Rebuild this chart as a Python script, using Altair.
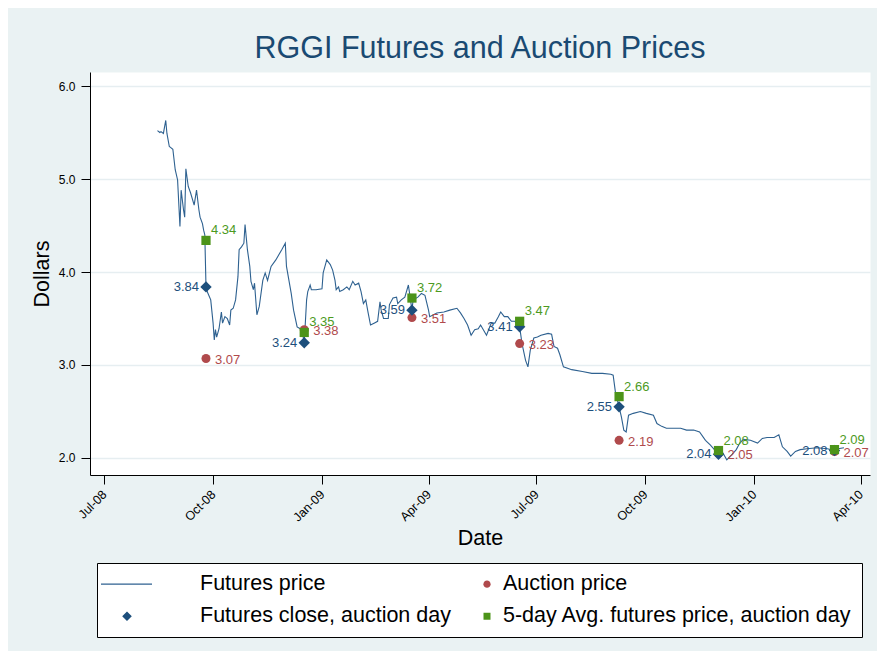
import altair as alt
import pandas as pd

# ---------------- data ----------------
line_dates = [
    "2008-08-15", "2008-08-17", "2008-08-18", "2008-08-20", "2008-08-22", "2008-08-23",
    "2008-08-25", "2008-08-26", "2008-08-28", "2008-08-30", "2008-09-01", "2008-09-03",
    "2008-09-04", "2008-09-06", "2008-09-07", "2008-09-08", "2008-09-10", "2008-09-12",
    "2008-09-15", "2008-09-17", "2008-09-19", "2008-09-20", "2008-09-22", "2008-09-23",
    "2008-09-24", "2008-09-25", "2008-09-26", "2008-09-29", "2008-10-01", "2008-10-02",
    "2008-10-03", "2008-10-04", "2008-10-06", "2008-10-08", "2008-10-09", "2008-10-11",
    "2008-10-13", "2008-10-15", "2008-10-16", "2008-10-18", "2008-10-20", "2008-10-22",
    "2008-10-23", "2008-10-25", "2008-10-27", "2008-10-28", "2008-10-30", "2008-11-01",
    "2008-11-02", "2008-11-04", "2008-11-05", "2008-11-07", "2008-11-09", "2008-11-12",
    "2008-11-14", "2008-11-16", "2008-11-19", "2008-11-23", "2008-11-28", "2008-12-01",
    "2008-12-02", "2008-12-06", "2008-12-08", "2008-12-11", "2008-12-15", "2008-12-17",
    "2008-12-19", "2008-12-20", "2008-12-22", "2008-12-23", "2008-12-27", "2009-01-01",
    "2009-01-02", "2009-01-05", "2009-01-08", "2009-01-10", "2009-01-12", "2009-01-13",
    "2009-01-15", "2009-01-16", "2009-01-19", "2009-01-22", "2009-01-24", "2009-01-27",
    "2009-01-29", "2009-02-01", "2009-02-03", "2009-02-05", "2009-02-07", "2009-02-09",
    "2009-02-11", "2009-02-14", "2009-02-17", "2009-02-19", "2009-02-20", "2009-02-22",
    "2009-02-26", "2009-02-27", "2009-03-02", "2009-03-05", "2009-03-06", "2009-03-09",
    "2009-03-12", "2009-03-15", "2009-03-18", "2009-03-19", "2009-03-23", "2009-03-26",
    "2009-03-29", "2009-04-01", "2009-04-02", "2009-04-08", "2009-04-14", "2009-04-19",
    "2009-04-25", "2009-04-28", "2009-05-01", "2009-05-04", "2009-05-07", "2009-05-10",
    "2009-05-13", "2009-05-15", "2009-05-20", "2009-05-24", "2009-05-27", "2009-05-30",
    "2009-06-01", "2009-06-04", "2009-06-07", "2009-06-10", "2009-06-13", "2009-06-17",
    "2009-06-19", "2009-06-22", "2009-06-24", "2009-06-26", "2009-06-29", "2009-07-02",
    "2009-07-05", "2009-07-11", "2009-07-14", "2009-07-16", "2009-07-19", "2009-07-21",
    "2009-07-24", "2009-07-31", "2009-08-09", "2009-08-17", "2009-08-26", "2009-09-02",
    "2009-09-04", "2009-09-06", "2009-09-09", "2009-09-11", "2009-09-13", "2009-09-15",
    "2009-09-17", "2009-09-21", "2009-09-27", "2009-10-02", "2009-10-08", "2009-10-11",
    "2009-10-15", "2009-10-19", "2009-10-31", "2009-11-05", "2009-11-11", "2009-11-16",
    "2009-11-21", "2009-11-25", "2009-12-02", "2009-12-05", "2009-12-09", "2009-12-13",
    "2009-12-17", "2009-12-20", "2009-12-23", "2009-12-29", "2010-01-04", "2010-01-08",
    "2010-01-12", "2010-01-18", "2010-01-22", "2010-01-25", "2010-01-29", "2010-02-01",
    "2010-02-05", "2010-02-09", "2010-02-15", "2010-02-23", "2010-03-04", "2010-03-10",
    "2010-03-13", "2010-03-18",
]
line_values = [
    5.52, 5.50, 5.51, 5.49, 5.63, 5.49,
    5.35, 5.34, 5.32, 5.10, 4.99, 4.49,
    4.88, 4.67, 4.59, 5.11, 4.92, 4.85,
    4.72, 4.88, 4.67, 4.59, 4.52, 4.45,
    4.40, 3.84, 3.79, 3.70, 3.45, 3.27,
    3.38, 3.30, 3.39, 3.57, 3.45, 3.52,
    3.50, 3.43, 3.59, 3.61, 3.70, 3.95,
    4.24, 4.27, 4.31, 4.51, 4.24, 4.06,
    3.90, 3.81, 3.88, 3.54, 3.63, 3.91,
    3.99, 3.91, 4.06, 4.13, 4.24, 4.31,
    4.06, 3.77, 3.59, 3.41, 3.38, 3.24,
    3.70, 3.79, 3.86, 3.81, 3.81, 3.82,
    3.99, 4.13, 4.08, 4.02, 3.91, 3.81,
    3.84, 3.79, 3.81, 3.84, 3.81, 3.90,
    3.86, 3.88, 3.79, 3.66, 3.70, 3.56,
    3.43, 3.45, 3.47, 3.68, 3.59, 3.50,
    3.50, 3.65, 3.72, 3.73, 3.66, 3.70,
    3.73, 3.86, 3.59, 3.70, 3.73, 3.77,
    3.75, 3.59, 3.52, 3.56, 3.57, 3.59,
    3.61, 3.56, 3.50, 3.43, 3.32, 3.38,
    3.39, 3.43, 3.32, 3.45, 3.45, 3.52,
    3.57, 3.52, 3.52, 3.47, 3.47, 3.41,
    3.23, 3.05, 2.98, 3.16, 3.29, 3.30,
    3.32, 3.34, 3.33, 3.20, 3.18, 3.11,
    2.98, 2.95, 2.93, 2.91, 2.91, 2.90,
    2.89, 2.70, 2.55, 2.44, 2.30, 2.28,
    2.46, 2.48, 2.50, 2.48, 2.46, 2.37,
    2.34, 2.32, 2.32, 2.30, 2.30, 2.28,
    2.19, 2.14, 2.04, 2.07, 1.98, 2.03,
    2.09, 2.16, 2.20, 2.19, 2.16, 2.21,
    2.22, 2.22, 2.25, 2.12, 2.07, 2.02,
    2.07, 2.09, 2.10, 2.11, 2.10, 2.08,
    2.10, 2.11,
]

auction_dates = ["2008-09-25", "2008-12-17", "2009-03-18", "2009-06-17",
                 "2009-09-09", "2009-12-02", "2010-03-10"]
auction_price = [3.07, 3.38, 3.51, 3.23, 2.19, 2.05, 2.07]
close_price = [3.84, 3.24, 3.59, 3.41, 2.55, 2.04, 2.08]
avg5_price = [4.34, 3.35, 3.72, 3.47, 2.66, 2.08, 2.09]

# legend order (column-major: left column first, then right column)
series_names = ["Futures price", "Futures close, auction day",
                "Auction price", "5-day Avg. futures price, auction day"]
series_colors = ["#2E6190", "#1D4F7C", "#B04A4C", "#4C9419"]
label_colors = {"close": "#1D4F7C", "auction": "#B04A4C", "avg": "#4C9A1E"}

tick_dates = [(2008, 7), (2008, 10), (2009, 1), (2009, 4), (2009, 7), (2009, 10), (2010, 1), (2010, 4)]

FONT = "Liberation Sans"
LEGEND_FONT_SIZE = 21.5

# ---------------- legend symbol shapes (custom paths, px relative to symbol centre) ----------------
SYM_SIZE = 100
R = (SYM_SIZE ** 0.5) / 2.0           # px per path unit
COL2_SYM = 25.25                      # right-column symbol centre, px from default centre


def u(v):
    return f"{v / R:.3f}"


def guard(x):
    return f"M{u(x)},{u(-0.5)}L{u(x)},{u(0.5)}"


def rect_path(x0, x1, h):
    return f"M{u(x0)},{u(-h)}H{u(x1)}V{u(h)}H{u(x0)}Z"


def diamond_path(cx, h):
    return f"M{u(cx - h)},0L{u(cx)},{u(-h)}L{u(cx + h)},0L{u(cx)},{u(h)}Z"


def circle_path(cx, r):
    return (f"M{u(cx - r)},0A{u(r)},{u(r)} 0 1,0 {u(cx + r)},0"
            f"A{u(r)},{u(r)} 0 1,0 {u(cx - r)},0Z")


shape_paths = [
    rect_path(-16.75, 34.25, 0.6),                          # Futures price (line)
    guard(-16.75) + diamond_path(9.25, 4.8),                # Futures close, auction day
    circle_path(COL2_SYM, 3.6),                             # Auction price
    rect_path(COL2_SYM - 3.5, COL2_SYM + 3.5, 3.5),         # 5-day avg
]

# ---------------- tables ----------------
line_df = pd.DataFrame({"date": line_dates, "price": line_values, "series": "Futures price"})
auc_df = pd.DataFrame({"date": auction_dates, "price": auction_price, "series": "Auction price"})
close_df = pd.DataFrame({"date": auction_dates, "price": close_price, "series": "Futures close, auction day"})
avg_df = pd.DataFrame({"date": auction_dates, "price": avg5_price,
                       "series": "5-day Avg. futures price, auction day"})

left_col = "(datum.value === 'Futures price' || datum.value === 'Futures close, auction day')"
legend = alt.Legend(
    title=None,
    orient="none",
    legendX=7,
    legendY=491,
    direction="vertical",
    columns=2,
    columnPadding=0,
    rowPadding=9.5,
    padding=10,
    fillColor="white",
    strokeColor="black",
    labelFont=FONT,
    labelFontSize=LEGEND_FONT_SIZE,
    labelColor="black",
    labelLimit=700,
    labelOffset={"expr": left_col + " ? 71.5 : 30.5"},
    symbolSize=SYM_SIZE,
    symbolStrokeWidth=0,
    symbolOffset=0,
    symbolOpacity=1,
)

color = alt.Color("series:N",
                  scale=alt.Scale(domain=series_names, range=series_colors),
                  legend=legend)
shape = alt.Shape("series:N",
                  scale=alt.Scale(domain=series_names, range=shape_paths),
                  legend=legend)

x_enc = alt.X(
    "date:T",
    scale=alt.Scale(type="utc",
                    domain=[alt.DateTime(year=2008, month=6, date=19, utc=True),
                            alt.DateTime(year=2010, month=4, date=9, utc=True)]),
    axis=alt.Axis(
        values=[alt.DateTime(year=y, month=m, date=1, utc=True) for y, m in tick_dates],
        format="%b-%y",
        labelAngle=-45,
        labelAlign="right",
        labelBaseline="middle",
        labelFontSize=12.5,
        labelPadding=8,
        tickSize=9,
        title="Date",
        titleFontSize=21.5,
        titlePadding=4,
        grid=False,
    ),
)
y_enc = alt.Y(
    "price:Q",
    scale=alt.Scale(domain=[1.817, 6.151], nice=False, zero=False),
    axis=alt.Axis(
        values=[2, 3, 4, 5, 6],
        format=".1f",
        labelFontSize=12,
        labelPadding=6,
        tickSize=9,
        title="Dollars",
        titleFontSize=21.5,
        titlePadding=5,
        grid=True,
    ),
)

# empty layer that only carries the legend (shape + colour)
legend_layer = alt.Chart(line_df).transform_filter("false").mark_point(
    filled=True, opacity=1).encode(x=x_enc, y=y_enc, color=color, shape=shape)

line = alt.Chart(line_df).mark_line(strokeWidth=1.1).encode(x=x_enc, y=y_enc, color=color)
circles = alt.Chart(auc_df).mark_point(shape="circle", filled=True, size=81, opacity=1).encode(
    x="date:T", y="price:Q", color=color)
diamonds = alt.Chart(close_df).mark_point(shape="diamond", filled=True, size=130, opacity=1).encode(
    x="date:T", y="price:Q", color=color)
squares = alt.Chart(avg_df).mark_point(shape="square", filled=True, size=85, opacity=1).encode(
    x="date:T", y="price:Q", color=color)

txt_close = alt.Chart(close_df).mark_text(
    align="right", baseline="middle", dx=-7, fontSize=13, font=FONT, color=label_colors["close"]
).encode(x="date:T", y="price:Q", text=alt.Text("price:Q", format=".2f"))
txt_auc = alt.Chart(auc_df).mark_text(
    align="left", baseline="middle", dx=9, dy=1.5, fontSize=13, font=FONT, color=label_colors["auction"]
).encode(x="date:T", y="price:Q", text=alt.Text("price:Q", format=".2f"))
txt_avg = alt.Chart(avg_df).mark_text(
    align="left", baseline="middle", dx=5, dy=-10, fontSize=13, font=FONT, color=label_colors["avg"]
).encode(x="date:T", y="price:Q", text=alt.Text("price:Q", format=".2f"))

chart = (
    alt.layer(legend_layer, line, circles, diamonds, squares, txt_close, txt_auc, txt_avg)
    .properties(
        width=780,
        height=403,
        autosize=alt.AutoSizeParams(type="none"),
        padding={"left": 82, "top": 64, "right": 7, "bottom": 176},
        background="#EAF2F3",
        title=alt.TitleParams(
            "RGGI Futures and Auction Prices",
            font=FONT, fontSize=30.5, fontWeight="normal", color="#1A4A72",
            anchor="middle", offset=8,
        ),
    )
    .configure_view(fill="white", stroke="transparent")
    .configure_axis(
        labelFont=FONT, titleFont=FONT, titleFontWeight="normal",
        labelColor="black", titleColor="black",
        domainColor="black", tickColor="black", domainWidth=1, tickWidth=1,
        gridColor="#E6EEF1", gridWidth=1.6,
    )
)

chart.save("out.html", embed_options={"renderer": "svg", "actions": False})
